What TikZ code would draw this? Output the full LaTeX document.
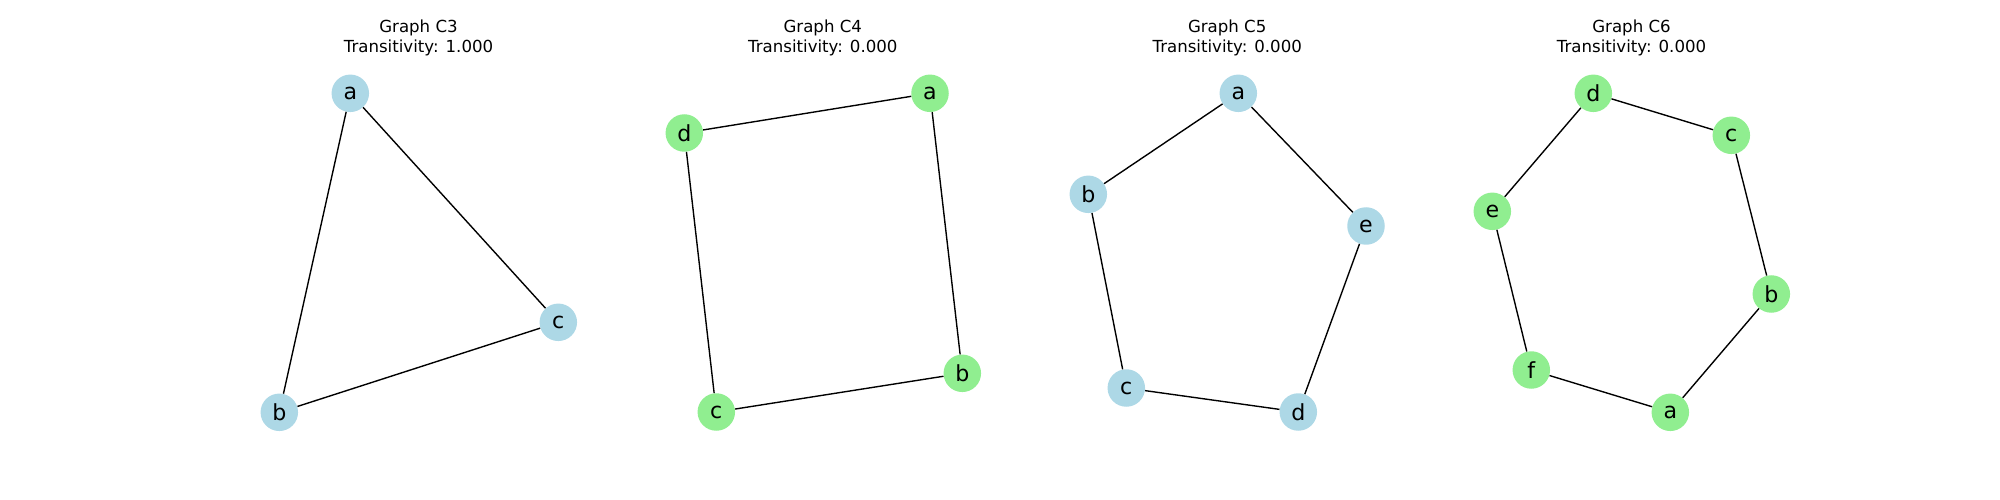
\documentclass[tikz,border=0pt]{standalone}
\usepackage{fontspec}
\setmainfont{DejaVu Sans}
\definecolor{nodeblue}{HTML}{ADD8E6}
\definecolor{nodegreen}{HTML}{90EE90}
\begin{document}
\begin{tikzpicture}[x=0.72bp,y=-0.72bp,
    vblue/.style={circle,fill=nodeblue,inner sep=0pt,minimum size=27bp,font=\fontsize{16}{18}\selectfont},
    vgreen/.style={vblue,fill=nodegreen},
    ttl/.style={anchor=base,inner sep=0pt,font=\fontsize{12}{14}\selectfont},
    edge/.style={line width=1bp}]
    \useasboundingbox (0,0) rectangle (2000,500);
    % titles
    \node[ttl] (n3) at (418.5,32.3) {Graph C3};
    \node[ttl] (t3) at (418.5,52.3) {Transitivity: 1.000};
    \node[ttl] (n4) at (822.8,32.3) {Graph C4};
    \node[ttl] (t4) at (822.8,52.3) {Transitivity: 0.000};
    \node[ttl] (n5) at (1227.2,32.3) {Graph C5};
    \node[ttl] (t5) at (1227.2,52.3) {Transitivity: 0.000};
    \node[ttl] (n6) at (1631.5,32.3) {Graph C6};
    \node[ttl] (t6) at (1631.5,52.3) {Transitivity: 0.000};
    % C3
    \foreach \v/\x/\y in {a/350.3/93.3, b/279.3/412.3, c/558.3/322.3}
        \node[vblue] (p\v) at (\x,\y) {\v};
    \draw[edge] (pa) -- (pb) -- (pc) -- (pa);
    % C4
    \foreach \v/\x/\y in {a/930/93.3, b/962.3/373.3, c/716.3/412, d/684.3/133}
        \node[vgreen] (q\v) at (\x,\y) {\v};
    \draw[edge] (qa) -- (qb) -- (qc) -- (qd) -- (qa);
    % C5
    \foreach \v/\x/\y in {a/1238.3/93.3, b/1088.3/194.3, c/1126.3/388, d/1298.3/412, e/1366/226}
        \node[vblue] (r\v) at (\x,\y) {\v};
    \draw[edge] (ra) -- (rb) -- (rc) -- (rd) -- (re) -- (ra);
    % C6
    \foreach \v/\x/\y in {a/1670.3/412.3, b/1771.3/294, c/1731.3/135.3, d/1593.3/93.3, e/1492.3/211.3, f/1531.3/370}
        \node[vgreen] (s\v) at (\x,\y) {\v};
    \draw[edge] (sa) -- (sb) -- (sc) -- (sd) -- (se) -- (sf) -- (sa);
\end{tikzpicture}
\end{document}
